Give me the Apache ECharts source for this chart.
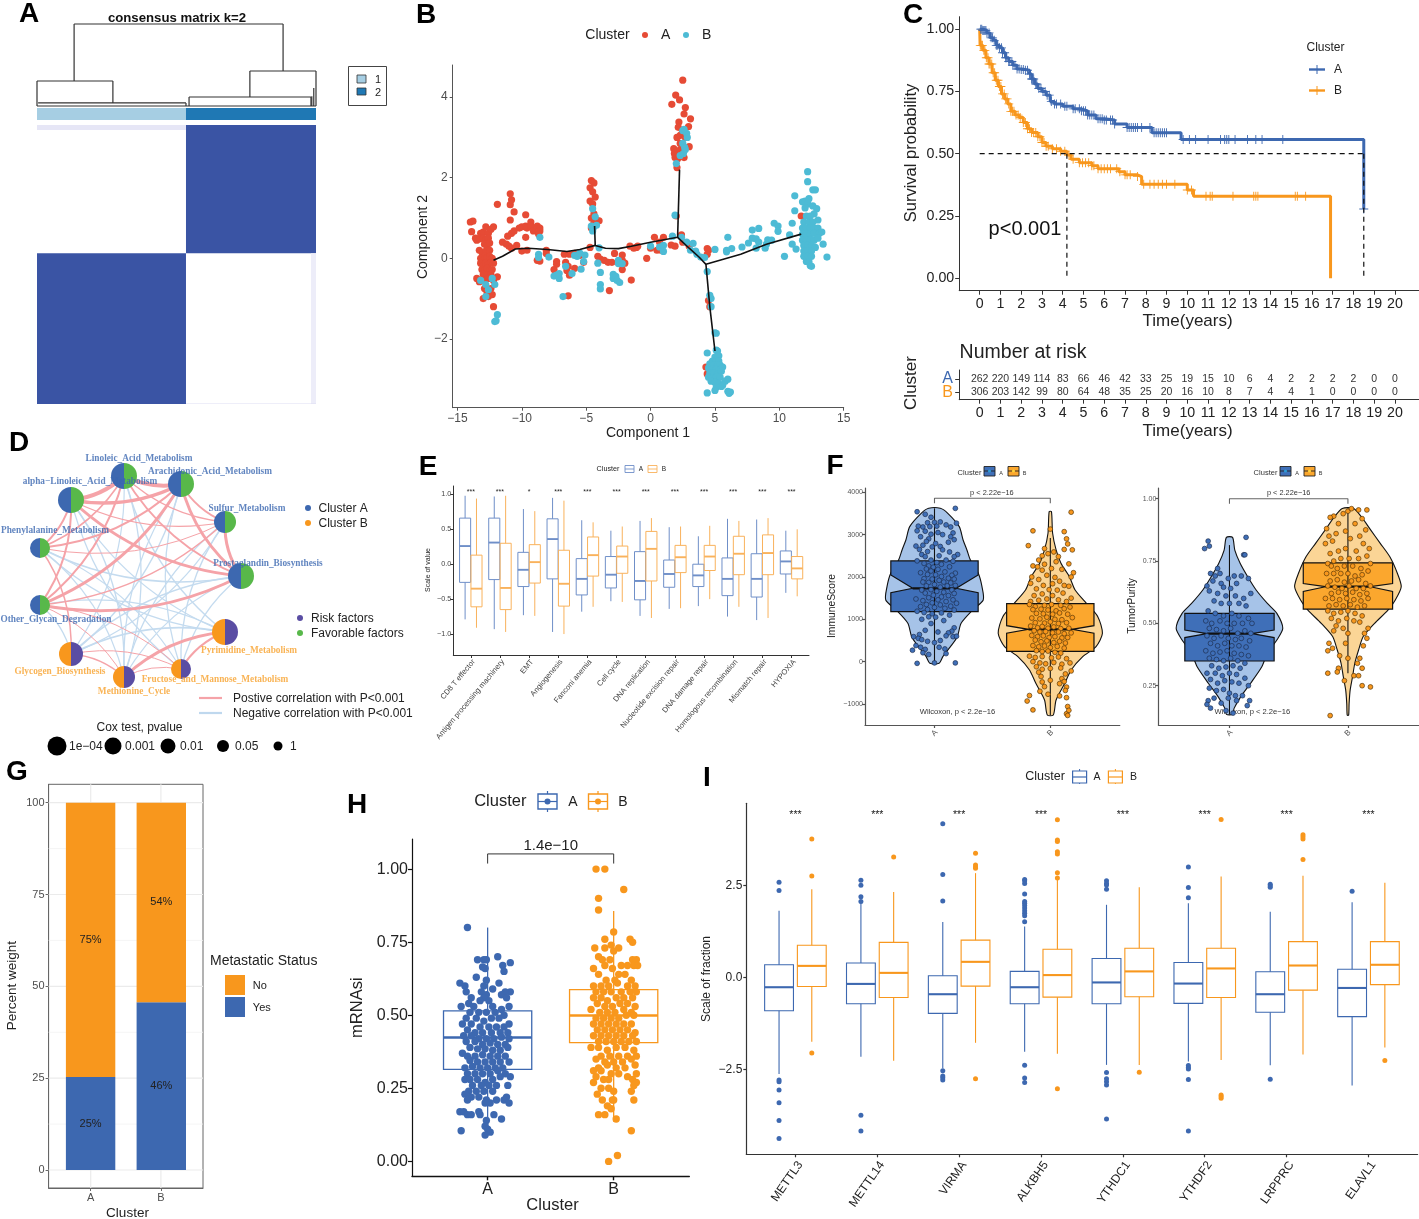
<!DOCTYPE html>
<html><head><meta charset="utf-8">
<style>html,body{margin:0;padding:0;background:#fff}#c{width:1419px;height:1219px}</style>
<script src="https://cdn.jsdelivr.net/npm/echarts@6/dist/echarts.min.js"></script>
</head><body><div id="c"></div>
<script>
// ---------- colours ----------
const BLUE='#3D68B0', ORANGE='#F8971D', FONT='"Liberation Sans"';
// ---------- A ----------
const consensusBlocks=[[0.534,1,0,0.46,'#3A54A4'],[0,0.534,0.46,1,'#3A54A4'],[0,0.534,0,0.018,'#E6E6F6'],[0.982,1,0.46,1,'#EDEDF9'],[0.534,1,0.998,1,'#DEDEF4']];
const annotBlocks=[[0,0.534,'#A6CEE3'],[0.534,1,'#1F78B4']];
const dendro=[[.133,1,.882,1],[.133,1,.133,.305],[.882,1,.882,.427],[0,.305,.272,.305],[0,.305,0,0],[.272,.305,.272,.037],[.004,.037,.534,.037],[.534,.037,.534,0],[.763,.427,1,.427],[.763,.427,.763,.11],[1,.427,1,0],[.545,.11,.982,.11],[.545,.11,.545,0],[.982,.11,.982,0],[0,0,1,0],[.992,.22,.992,0],[.985,.12,.985,0]];
// ---------- B ----------
const trajMain=[[-12.2,-.05],[-11.5,.05],[-10.5,.23],[-9.5,.25],[-8,.22],[-6.5,.17],[-5.5,.22],[-4.3,.32],[-3.5,.25],[-2.5,.24],[-1.5,.3],[0,.4],[2.1,.52],[3,.25],[3.8,.02],[4.3,-.15],[7,.1],[9,.35],[11.7,.6]];
const trajUp=[[2.1,.52],[2.25,2.2]], trajDown=[[4.3,-.15],[4.6,-1.2],[5,-2.3]], trajStub=[[-4.3,.32],[-4.35,.8]];
const cellsA=[[-14,.9],[-13.8,.92],[-13.9,.66],[-13.6,.5],[-13.5,.45],[-13.3,.48],[-13.2,.62],[-13,.65],[-12.8,.78],[-12.6,.62],[-12.4,.72],[-12.2,.78],[-13,.5],[-12.8,.45],[-12.6,.5],[-12.9,.35],[-12.7,.3],[-12.5,.38],[-13.3,.2],[-13.1,.15],[-12.8,.18],[-12.5,.2],[-12.9,.05],[-13.2,0],[-13,-.05],[-12.7,.02],[-12.5,.05],[-12.3,0],[-13.2,-.12],[-13,-.18],[-12.8,-.12],[-12.6,-.15],[-12.4,-.1],[-12.2,-.12],[-13.1,-.28],[-12.9,-.3],[-12.7,-.25],[-12.5,-.3],[-12.3,-.28],[-13,-.4],[-12.7,-.42],[-12.4,-.4],[-13.5,-.5],[-13.3,-.58],[-12.9,-.55],[-12.6,-.5],[-12.2,-.55],[-11.9,-.46],[-12.9,-.75],[-12.7,-.85],[-12.4,-.75],[-13,-1],[-12.6,-.95],[-12.3,-.9],[-12.2,-1.2],[-11.9,1.34],[-11.5,.4],[-11.2,.35],[-11,.3],[-10.8,.25],[-11.1,.55],[-10.8,.62],[-10.6,.68],[-10.9,.95],[-10.6,1.15],[-10.9,1.33],[-10.8,1.45],[-10.9,1.6],[-10.4,.32],[-10,.18],[-10.2,.75],[-10,.78],[-9.7,.8],[-9.6,.75],[-9.7,1.08],[-9.6,.2],[-9.7,.52],[-9.3,.9],[-9.3,.8],[-9.1,.68],[-8.8,.8],[-8.6,.75],[-8.6,.68],[-8.7,.6],[-8.8,-.05],[-8.6,-.07],[-8.1,.2],[-8.1,.12],[-7.5,-.28],[-7.3,-.08],[-7.3,-.15],[-6.7,.1],[-6.6,-.1],[-6.4,-.2],[-6.5,-.3],[-6.3,-.42],[-6.4,-.93],[-6.3,.1],[-5.9,.12],[-5.5,.07],[-5.9,-.25],[-5.2,-.1],[-4.7,1.75],[-4.6,1.93],[-4.4,1.87],[-4.5,1.65],[-4.3,1.52],[-4.7,1.42],[-4.5,1.35],[-4.4,1.1],[-4.6,1],[-4.2,.95],[-4,.93],[-4.4,.88],[-4.6,.75],[-4.7,.27],[-4.1,.05],[-3.9,-.02],[-3.6,-.05],[-3.3,-.1],[-3,-.1],[-2.8,.12],[-3.2,-.8],[-2.2,.08],[-2.2,-.05],[-2,-.12],[-2.2,-.28],[-1.6,.3],[-1.3,.25],[-1.1,.27],[-1,.3],[-1.5,-.54],[-.3,0],[0,.25],[.3,.52],[.5,.2],[.7,.4],[1,.52],[.8,.2],[1.6,.33],[1.9,.3],[3,.3],[2.5,.4],[2.4,.58],[4.4,.24],[4.5,.2],[4.4,.1],[2.5,4.42],[1.95,4.05],[2.25,3.93],[1.65,3.82],[2.7,3.74],[2.6,3.58],[3.1,3.46],[2.2,3.38],[2.15,3.25],[2.95,3.27],[2.7,3],[2.05,3],[2.3,3.05],[2.45,3.1],[2.3,2.85],[1.8,2.72],[1.85,2.6],[2.05,2.65],[2.3,2.7],[3,2.77],[1.9,2.5],[2.1,2.47],[2.6,2.5],[2.05,2.25],[2,1.05],[4.5,-1.05],[4.6,-1.2],[4.3,-2.7],[4.4,-2.87],[11.7,1.05]];
const cellsB=[[-13.2,-.55],[-12.8,-.65],[-12.3,-.5],[-12.1,-.65],[-12.6,-.78],[-12.8,-.95],[-11.9,-1.4],[-12.1,-1.57],[-12,-1.55],[-8.6,.52],[-8.7,.1],[-8.7,.02],[-7.9,.03],[-7.5,-.44],[-7.3,-.42],[-7.1,-.5],[-7.1,-.38],[-6.8,-.95],[-6.6,-.2],[-6.1,-.38],[-5.9,.07],[-5.7,.05],[-5.5,.13],[-5.4,-.27],[-5.1,.08],[-5.2,-.08],[-4.5,1.23],[-4.3,1.03],[-4.6,.8],[-4.4,.78],[-4.2,.82],[-4.5,.68],[-4,.26],[-4.1,-.12],[-3.9,-.35],[-3.9,-.65],[-3.9,-.76],[-2.9,-.4],[-2.9,-.5],[-2.7,-.45],[-2.6,-.55],[-2.4,-.6],[-2.5,-.05],[-2.5,-.13],[-2.2,-.13],[0,.3],[.7,.28],[1,.32],[1,.17],[1.7,.55],[1.9,1.07],[2.4,.52],[2.8,.4],[3.3,.37],[3.1,.2],[3.5,.18],[3.6,.1],[3.9,.03],[4.2,.02],[5,.22],[2,2.35],[2.3,2.55],[2.55,2.6],[2.7,2.7],[2.5,2.85],[2.65,2.75],[2.5,3.17],[2.8,3.1],[2.85,3],[2.6,3.2],[4.4,-.33],[4.6,-.92],[4.7,-1],[4.7,-1.2],[5,-1.85],[5.1,-1.86],[4.4,-2.35],[5.1,-2.28],[5.2,-2.3],[5,-2.45],[5.3,-2.42],[4.8,-2.55],[5.1,-2.55],[5.3,-2.55],[4.6,-2.62],[4.9,-2.65],[5.2,-2.65],[5.4,-2.65],[4.5,-2.72],[4.8,-2.75],[5.1,-2.75],[5.3,-2.78],[5.6,-2.7],[4.6,-2.85],[4.9,-2.85],[5.2,-2.88],[5.5,-2.8],[4.5,-2.95],[4.8,-2.97],[5.1,-2.95],[5.4,-2.95],[4.7,-3.05],[5,-3.08],[5.3,-3.1],[5.8,-3.05],[6,-3],[5.1,-3.2],[5.5,-3.18],[5.6,-3.15],[5,-3.28],[4.4,-3.34],[6,-3.3],[6.2,-3.32],[6.1,-3.35],[6,.52],[5.9,.2],[5.9,.16],[6.3,.24],[7.1,.28],[7.6,.38],[7.9,.7],[7.9,.5],[8.2,.48],[8.4,.74],[8.4,.4],[8.2,.25],[8.9,.25],[9,.35],[9.1,.46],[9.4,.45],[9.6,.87],[9.9,.8],[9.9,.67],[10.4,.05],[10.8,.58],[11,.87],[11,.35],[11.2,1.55],[11.2,1.18],[11.3,.23],[12.2,2.15],[12.2,1.9],[12.6,1.7],[12.8,1.7],[11.8,1.4],[12,1.42],[12.2,1.35],[12.3,1.48],[12.6,1.3],[12.9,1.23],[13,.95],[12.7,1.1],[12,1.25],[12.1,1.05],[12.4,1.05],[11.9,.9],[12.3,.9],[12.6,.9],[11.8,.75],[12.1,.75],[12.4,.75],[12.7,.75],[13,.75],[11.8,.6],[12.1,.6],[12.4,.6],[12.7,.62],[13.1,.62],[13.3,.65],[11.8,.45],[12.1,.45],[12.4,.45],[12.7,.45],[13,.5],[11.9,.32],[12.2,.32],[12.5,.32],[12.8,.27],[13.4,.35],[11.9,.18],[12.2,.18],[12.5,.18],[11.9,.05],[12.2,.05],[12.5,.05],[13.7,.03],[12.1,-.08],[12.3,-.08],[12.4,-.18],[12.5,-.2]];
// ---------- C ----------
const kmA=[[0,1],[.15,.995],[.35,.985],[.5,.965],[.65,.955],[.8,.935],[.95,.925],[1.1,.905],[1.25,.885],[1.4,.87],[1.6,.855],[1.8,.84],[2,.838],[2.2,.835],[2.4,.82],[2.5,.8],[2.65,.78],[2.8,.762],[3,.75],[3.2,.735],[3.4,.71],[3.6,.7],[4,.69],[4.5,.68],[4.9,.672],[5.2,.655],[5.6,.64],[6,.635],[6.5,.619],[7.1,.605],[8.3,.584],[9.7,.557],[18.5,.278]];
const kmB=[[0,1],[.02,.935],[.15,.915],[.3,.885],[.45,.86],[.6,.825],[.75,.795],[.9,.77],[1.05,.74],[1.2,.72],[1.35,.7],[1.5,.67],[1.7,.655],[1.9,.645],[2.1,.625],[2.3,.6],[2.5,.585],[2.8,.568],[3,.545],[3.2,.53],[3.5,.52],[3.9,.51],[4.2,.495],[4.4,.478],[4.8,.464],[5.4,.452],[5.7,.44],[6.7,.428],[7,.415],[7.6,.408],[7.8,.377],[10,.354],[10.3,.329],[16.9,0]];
const censorA=[.05,.1,.15,.2,.25,.3,.35,.45,.55,.62,.7,.8,.87,.95,1.05,1.1,1.2,1.25,1.3,1.4,1.45,1.55,1.6,1.7,1.8,1.9,2,2.1,2.2,2.3,2.4,2.5,2.55,2.6,2.7,2.75,2.85,2.95,3.05,3.15,3.25,3.35,3.45,3.6,3.7,3.9,4.1,4.2,4.5,4.6,4.8,4.9,5,5.1,5.2,5.3,5.4,5.5,5.7,5.8,5.9,6,6.1,6.3,6.4,6.5,7.1,7.2,7.3,7.4,7.5,7.6,7.8,8.2,8.4,8.5,8.6,8.7,8.8,8.9,9,9.8,10.1,10.4,11,11.6,11.8,11.9,12,12.3,12.9,13.3,13.6,14.6,18.5];
const censorB=[.03,.08,.13,.2,.25,.32,.4,.45,.5,.58,.65,.72,.8,.88,.95,1.02,1.1,1.18,1.25,1.32,1.4,1.5,1.58,1.65,1.75,1.85,1.95,2.1,2.2,2.3,2.4,2.5,2.6,2.7,2.8,2.9,3,3.1,3.2,3.3,3.5,3.7,3.9,4.1,4.3,4.5,4.8,4.95,5.1,5.25,5.4,5.5,5.7,5.85,6,6.15,6.3,6.6,6.75,7,7.1,7.25,7.6,7.9,8.2,8.4,8.6,8.8,9,9.4,10,10.2,10.9,11.1,11.2,12.2,13.2,13.3,13.4,15.2,15.3,15.7];
const riskA=[262,220,149,114,83,66,46,42,33,25,19,15,10,6,4,2,2,2,2,0,0];
const riskB=[306,203,142,99,80,64,48,35,25,20,16,10,8,7,4,4,1,0,0,0,0];
const yearTicks=[0,1,2,3,4,5,6,7,8,9,10,11,12,13,14,15,16,17,18,19,20];
// ---------- D ----------
const netNames=['Linoleic_Acid_Metabolism','Arachidonic_Acid_Metabolism','Sulfur_Metabolism','Prostaglandin_Biosynthesis','Pyrimidine_Metabolism','Fructose_and_Mannose_Metabolism','Methionine_Cycle','Glycogen_Biosynthesis','Other_Glycan_Degradation','Phenylalanine_Metabolism','alpha−Linoleic_Acid_Metabolism'];
const netPos=[[124,476],[181,484],[225,522],[241,576],[225,632],[181,669],[124,677],[71,654],[40,605],[40,548],[71,500]];
const netRadius=[13,13,11,13,13,10,11,12,10,10,13];
const netClusterB=[0,0,0,0,1,1,1,1,0,0,0];
const netLabelPos=[[139,459],[210,472],[247,509],[268,564],[249,651],[215,680],[134,692],[60,672],[56,620],[55,531],[90,482]];
const posEdges=[[0,10,4],[0,1,4],[1,10,3.5],[3,10,3],[2,10,1.2],[1,2,1.8],[1,3,3],[0,3,1.8],[0,2,1.2],[2,3,3],[1,8,3],[0,8,2],[8,10,2],[9,10,2],[0,9,1.5],[1,9,2],[2,9,1],[7,9,1.5],[3,8,3],[2,8,1.5],[5,8,1],[6,8,1],[4,6,3],[4,5,2],[5,6,1],[6,7,1.5],[5,7,1]];
const negEdges=[[0,6,1.3],[0,4,1.3],[1,6,1.3],[1,5,1.3],[1,7,1.3],[2,7,1.3],[2,6,1.3],[2,5,1.3],[3,7,1.3],[3,6,1.3],[3,5,1.3],[4,9,1.3],[5,9,1.2],[4,10,1.3],[5,10,1.2],[6,10,1.3],[7,8,1.3],[6,9,1.2],[4,8,1.2],[4,7,1.6],[0,7,1.2],[3,9,1.4]];
const coxSizes=[9.5,8.5,7.5,6,4.5], coxLabels=['1e−04','0.001','0.01','0.05','1'], coxX=[57,113,168,223,278];
// ---------- E ----------
const hallmarkNames=['CD8 T effector','Antigen processing machinery','EMT','Angiogenesis','Fanconi anemia','Cell cycle','DNA replication','Nucleotide excision repair','DNA damage repair','Homologous recombination','Mismatch repair','HYPOXIA'];
const hallmarkStars=['***','***','*','***','***','***','***','***','***','***','***','***'];
const hallmarkA=[[-.79,-.26,.26,.66,.98],[-.93,-.22,.31,.66,.97],[-.73,-.32,-.08,.17,.79],[-.97,-.21,.36,.65,.95],[-.68,-.44,-.21,.08,.63],[-.53,-.34,-.15,.11,.48],[-.74,-.51,-.24,.18,.62],[-.64,-.33,-.14,.06,.53],[-.6,-.32,-.16,0,.4],[-.75,-.45,-.21,.09,.65],[-.8,-.47,-.21,.15,.64],[-.41,-.14,.04,.19,.48]];
const hallmarkB=[[-.91,-.61,-.35,.13,.94],[-.97,-.65,-.34,.3,.98],[-.74,-.27,.03,.28,.76],[-1,-.6,-.28,.2,.91],[-.61,-.17,.13,.39,.6],[-.54,-.13,.11,.26,.54],[-.77,-.24,.22,.47,.66],[-.63,-.12,.1,.27,.54],[-.5,-.09,.11,.27,.55],[-.61,-.15,.15,.4,.62],[-.77,-.15,.16,.42,.66],[-.46,-.21,-.06,.11,.5]];
// ---------- F ----------
const violinImmuneA=[[3622,.05],[3504,.115],[3189,.214],[2874,.247],[2638,.28],[2401,.31],[2087,.378],[1772,.41],[1457,.421],[1220,.33],[906,.23],[590,.197],[354,.138],[118,.072],[-40,.04]];
const violinImmuneB=[[3543,.01],[3031,.02],[2638,.05],[2323,.092],[2008,.165],[1693,.214],[1378,.312],[1063,.41],[669,.45],[354,.395],[118,.28],[-197,.18],[-512,.125],[-906,.05],[-1260,.026]];
const violinPurityA=[[.845,.026],[.794,.045],[.741,.09],[.687,.154],[.634,.225],[.58,.32],[.54,.4],[.48,.45],[.433,.4],[.38,.32],[.326,.273],[.259,.177],[.206,.096],[.159,.039],[.135,.026]];
const violinPurityB=[[.961,.048],[.928,.113],[.874,.193],[.821,.273],[.767,.354],[.7,.418],[.647,.45],[.594,.4],[.553,.338],[.5,.225],[.447,.129],[.393,.09],[.34,.058],[.286,.039],[.233,.019],[.179,.01],[.132,.006]];
// x, whisker low, q1, notch low, median, notch high, q3, whisker high
const notchImmune=[[1,-40,1181,1630,1732,2047,2378,3622],[2,-1260,244,670,764,850,1370,2920]];
const notchPurity=[[1,.135,.349,.443,.459,.473,.54,.814],[2,.3,.5575,.628,.647,.66,.743,.961]];
const immuneAPts=[[.85,3540],[1.18,3620],[.92,3480],[1.19,3270],[.97,3410],[1.05,3300],[1,3290],[.94,3280],[.86,3200],[.9,3180],[.96,3190],[1.02,3200],[1.1,3230],[1.14,3180],[.85,3090],[.92,3080],[1.03,3050],[.97,3010],[1.07,3000],[1.16,3040],[.88,2950],[.95,2900],[1.14,2950],[1.17,2880],[.93,2840],[1.12,2820],[.9,2750],[.84,2730],[1.01,2790],[1.05,2720],[.98,2710],[.87,2650],[.94,2600],[1.07,2640],[1.13,2590],[.89,2530],[1.2,2530],[1.17,2480],[.92,2480],[1.04,2500],[.97,2400],[.85,2380],[1.1,2400],[1.16,2370],[1.02,2340],[.91,2320],[.95,2260],[1.06,2300],[.99,2230],[.93,2190],[1.13,2240],[1.03,2180],[.97,2140],[1.09,2120],[1.18,2090],[.88,2100],[1.15,2040],[.94,2060],[1.01,2050],[1.06,2010],[.91,1960],[.98,1950],[1.12,1970],[1.17,1950],[1.04,1920],[.9,1880],[.95,1870],[1.08,1880],[1.14,1860],[1,1820],[.93,1790],[1.11,1790],[1.18,1800],[1.05,1760],[.97,1700],[.89,1690],[1.15,1690],[1.02,1660],[1.08,1640],[.92,1620],[1.17,1610],[.99,1570],[1.12,1560],[1.06,1530],[.95,1510],[.84,1480],[1.03,1460],[1.16,1460],[.9,1440],[1.1,1420],[.98,1390],[1.19,1380],[.93,1350],[1.05,1340],[1.14,1310],[.88,1300],[1,1280],[1.09,1260],[.94,1230],[1.17,1220],[.85,1190],[.91,1160],[.98,1130],[1.06,1150],[1.13,1100],[.95,1060],[1.01,1050],[.89,1000],[1.08,970],[.97,900],[1.17,800],[1.15,720],[1.12,680],[.92,740],[.87,640],[1.03,700],[.82,590],[.86,550],[.89,520],[1.1,610],[1.16,590],[1.05,500],[.94,480],[1,450],[1.19,600],[.84,380],[.88,340],[.92,290],[1.04,340],[1.09,300],[.81,270],[.9,210],[.95,170],[1.1,190],[.85,-40],[1.18,-30],[1,-30]];
const immuneBPts=[[1.85,3090],[2,3130],[2.12,3070],[2.18,3530],[2.14,2900],[2.15,2780],[1.81,2740],[2.19,2640],[2.12,2650],[1.95,2670],[1.98,2550],[2.03,2590],[1.93,2500],[2.07,2480],[1.9,2400],[1.85,2260],[1.89,2240],[1.95,2300],[2.05,2360],[2.16,2310],[1.93,2160],[2.01,2200],[2.1,2180],[2.2,2100],[2.18,2000],[1.84,2000],[1.9,1940],[1.97,2040],[2.04,1990],[2.08,1900],[1.83,1850],[1.94,1800],[2.02,1840],[2.12,1800],[2.16,1780],[1.88,1720],[1.99,1700],[2.06,1690],[2.11,1620],[1.86,1560],[1.93,1600],[2.02,1560],[2.18,1500],[1.83,1420],[1.9,1450],[1.97,1480],[2.07,1460],[2.14,1420],[1.82,1350],[1.87,1300],[1.95,1330],[2.01,1350],[2.09,1330],[2.17,1290],[1.85,1230],[1.92,1240],[1.98,1220],[2.05,1200],[2.12,1250],[1.88,1140],[1.94,1130],[2.02,1120],[2.08,1150],[2.15,1120],[2.19,1040],[1.84,1030],[1.91,1010],[1.97,1050],[2.04,1000],[2.1,990],[1.87,920],[1.95,910],[2,940],[2.07,900],[2.14,920],[1.83,840],[1.89,800],[1.93,830],[1.98,790],[2.03,820],[2.09,780],[2.16,790],[1.86,730],[1.91,700],[1.96,710],[2.02,680],[2.07,700],[2.12,660],[2.18,680],[1.84,620],[1.89,590],[1.94,610],[1.99,570],[2.04,590],[2.1,560],[2.15,570],[1.87,510],[1.92,470],[1.97,490],[2.03,450],[2.08,480],[2.13,440],[1.85,380],[1.9,350],[1.95,370],[2,330],[2.06,360],[2.12,320],[1.88,260],[1.93,240],[1.98,250],[2.04,220],[2.09,200],[1.82,130],[1.87,100],[1.93,120],[2.01,90],[2.07,110],[2.14,70],[1.85,0],[1.91,-30],[1.96,-50],[2.03,-20],[2.1,-60],[2.17,-30],[1.88,-120],[1.93,-180],[2,-160],[2.09,-150],[1.9,-250],[2.13,-290],[2.18,-220],[1.92,-350],[2.1,-400],[2.12,-470],[1.93,-480],[2,-440],[2.08,-520],[1.95,-590],[2.14,-600],[2.13,-680],[1.82,-800],[1.91,-700],[1.98,-770],[1.8,-930],[2.14,-850],[2.08,-810],[1.85,-1140],[2.15,-1060],[2.14,-1230],[2.15,-1270],[2.16,-1150]];
const purityAPts=[[.82,.83],[.79,.8],[.83,.81],[1.14,.845],[1.12,.775],[1.13,.775],[.9,.72],[.84,.7],[.88,.69],[.92,.7],[.81,.65],[.86,.67],[.93,.66],[.99,.68],[1.04,.69],[1.1,.69],[1.16,.68],[.95,.645],[1.01,.64],[1.06,.66],[.83,.63],[.9,.62],[.97,.61],[1.05,.61],[1.12,.6],[1.18,.62],[.87,.59],[.93,.58],[1,.58],[1.08,.58],[1.14,.57],[.82,.55],[.88,.54],[.95,.53],[1.02,.54],[1.08,.53],[1.16,.52],[.8,.51],[.85,.5],[.92,.51],[.98,.5],[1.04,.5],[1.11,.5],[1.19,.5],[.83,.48],[.89,.475],[.95,.47],[1.01,.48],[1.07,.46],[1.13,.47],[1.18,.46],[.81,.45],[.87,.44],[.93,.45],[.99,.44],[1.05,.435],[1.1,.44],[1.17,.43],[.84,.42],[.9,.41],[.96,.42],[1.02,.41],[1.08,.41],[1.14,.405],[.8,.39],[.86,.38],[.92,.385],[.98,.39],[1.04,.38],[1.1,.375],[1.16,.37],[.83,.36],[.89,.355],[.95,.35],[1.01,.36],[1.07,.35],[1.13,.34],[.85,.33],[.91,.32],[.97,.325],[1.03,.33],[1.09,.32],[.81,.3],[.88,.3],[.94,.29],[1,.3],[1.06,.295],[1.13,.28],[.84,.275],[.9,.26],[.96,.27],[1.02,.265],[1.08,.26],[1.16,.25],[.83,.24],[.89,.23],[.95,.235],[1,.22],[1.05,.21],[1.11,.21],[.82,.19],[.87,.2],[.93,.18],[1.17,.19],[1.15,.17],[.81,.175],[.99,.2],[1.06,.19],[.84,.16],[.97,.15],[1.03,.14]];
const purityBPts=[[2,.95],[2.03,.96],[2.09,.955],[2.16,.955],[1.88,.93],[1.85,.925],[1.96,.94],[2.12,.92],[1.82,.88],[1.92,.9],[2.06,.9],[2.15,.875],[1.84,.85],[1.9,.86],[1.98,.87],[2.1,.85],[1.81,.82],[1.87,.83],[2.02,.84],[2.13,.82],[2.18,.8],[1.85,.78],[1.92,.79],[1.98,.8],[2.07,.79],[2.16,.77],[1.83,.74],[1.88,.75],[1.94,.76],[2.01,.76],[2.09,.76],[2.19,.74],[1.86,.73],[1.91,.72],[1.97,.73],[2.04,.73],[2.11,.72],[2.17,.71],[1.82,.7],[1.88,.7],[1.94,.7],[2,.7],[2.06,.69],[2.12,.695],[1.85,.67],[1.91,.675],[1.97,.665],[2.03,.67],[2.09,.675],[2.15,.66],[1.83,.65],[1.89,.645],[1.95,.64],[2.01,.65],[2.07,.64],[2.13,.64],[2.19,.65],[1.86,.62],[1.92,.625],[1.98,.62],[2.04,.625],[2.1,.615],[2.16,.62],[1.81,.6],[1.87,.6],[1.93,.595],[1.99,.6],[2.05,.595],[2.11,.59],[2.17,.6],[1.84,.57],[1.9,.575],[1.96,.57],[2.02,.575],[2.08,.565],[2.14,.57],[1.83,.55],[1.88,.54],[1.94,.545],[2,.55],[2.06,.54],[2.12,.53],[1.86,.52],[1.92,.51],[1.99,.52],[2.05,.51],[2.1,.505],[2.17,.48],[1.9,.49],[1.96,.48],[2.14,.46],[1.88,.47],[2,.46],[2.16,.44],[1.84,.42],[1.87,.4],[1.83,.39],[1.98,.42],[2.13,.41],[1.93,.37],[2,.36],[2.1,.36],[1.92,.32],[2.08,.34],[1.83,.3],[1.91,.305],[2.12,.32],[2.05,.29],[2.09,.29],[1.97,.27],[2.12,.25],[2.19,.245],[1.85,.13]];
// ---------- G ----------
const metaCats=['A','B'], metaYes=[25.3,45.7], metaNo=[74.7,54.3], metaYesLbl=['25%','46%'], metaNoLbl=['75%','54%'];
// ---------- H ----------
const mrnaBoxes=[[1,.09,.315,.424,.515,.8],[2,.136,.406,.499,.588,.857]];
const mrnaA=[[.84,.8],[.92,.69],[.97,.69],[.99,.69],[1.08,.7],[1.18,.68],[1.12,.67],[.98,.66],[.96,.665],[1.13,.65],[.91,.63],[.99,.62],[.78,.61],[.97,.6],[1.09,.61],[.82,.6],[1.04,.59],[.83,.58],[.95,.58],[.99,.57],[1.18,.58],[1.14,.58],[1.11,.57],[.87,.56],[.97,.56],[1.01,.55],[1.15,.56],[.85,.54],[.94,.55],[.89,.53],[1.04,.53],[1.17,.53],[1.11,.52],[.79,.53],[.86,.51],[.93,.51],[.99,.51],[1.06,.51],[1.13,.5],[.83,.49],[.91,.49],[.97,.48],[1.03,.49],[1.09,.49],[1.17,.47],[.8,.47],[.87,.47],[.94,.46],[1.01,.46],[1.07,.46],[1.13,.46],[.84,.45],[.9,.44],[.96,.44],[1.03,.44],[1.1,.44],[1.16,.44],[.81,.43],[.87,.43],[.93,.42],[.99,.42],[1.05,.42],[1.11,.425],[1.17,.42],[.83,.41],[.9,.41],[.96,.4],[1.02,.405],[1.08,.4],[1.14,.4],[.86,.39],[.92,.385],[.98,.385],[1.04,.38],[1.1,.38],[1.16,.39],[.8,.37],[.84,.36],[.9,.36],[.96,.365],[1.02,.36],[1.08,.36],[1.14,.36],[.86,.345],[.92,.34],[.98,.34],[1.04,.34],[1.1,.34],[1.17,.34],[.82,.32],[.88,.325],[.94,.32],[1,.32],[1.06,.32],[1.12,.32],[.84,.3],[.9,.3],[.96,.3],[1.02,.3],[1.08,.31],[1.14,.3],[.82,.28],[.86,.28],[.92,.28],[.98,.27],[1.04,.28],[1.1,.29],[1.18,.29],[.88,.26],[.95,.26],[1.01,.26],[1.07,.26],[1.16,.26],[.85,.24],[.91,.24],[.97,.24],[1.04,.24],[1.15,.22],[.82,.23],[.87,.22],[.93,.22],[.99,.21],[1.02,.2],[1.07,.21],[1.13,.21],[.84,.21],[.98,.2],[1.17,.2],[.78,.17],[.81,.17],[.84,.16],[.87,.16],[.93,.17],[.94,.16],[1.05,.16],[1.11,.145],[.99,.14],[.79,.105],[.98,.12],[1,.11],[1.02,.1],[.98,.09]];
const mrnaB=[[1.86,1],[1.93,1],[1.88,.9],[2.08,.93],[1.88,.86],[2,.785],[1.93,.76],[2.13,.76],[2.15,.75],[1.85,.73],[1.93,.73],[1.98,.74],[2.04,.73],[2,.72],[1.88,.7],[2.15,.69],[2.18,.69],[1.91,.69],[1.97,.69],[2.06,.67],[2.11,.67],[2.16,.67],[1.84,.66],[1.93,.67],[1.99,.66],[2.19,.67],[2.04,.64],[2.09,.64],[1.88,.64],[1.94,.62],[2.01,.62],[2.14,.62],[1.84,.6],[1.9,.6],[1.96,.6],[2.03,.61],[2.11,.6],[2.17,.6],[1.86,.58],[1.92,.58],[1.98,.58],[2.06,.58],[2.13,.58],[2.18,.58],[1.84,.56],[1.9,.56],[1.95,.55],[2.02,.56],[2.08,.56],[2.15,.56],[1.87,.54],[1.93,.53],[1.99,.53],[2.05,.54],[2.11,.54],[2.17,.53],[1.82,.52],[1.89,.51],[1.95,.51],[2.01,.51],[2.08,.52],[2.14,.51],[1.86,.49],[1.92,.49],[1.98,.49],[2.04,.49],[2.1,.5],[2.16,.5],[1.84,.47],[1.9,.47],[1.96,.47],[2.02,.47],[2.08,.47],[2.14,.47],[1.87,.45],[1.93,.45],[1.99,.45],[2.05,.45],[2.11,.45],[2.17,.44],[1.84,.43],[1.9,.43],[1.96,.43],[2.02,.43],[2.08,.43],[2.15,.43],[1.88,.41],[1.94,.41],[2,.41],[2.06,.41],[2.12,.41],[2.18,.41],[1.82,.39],[1.88,.39],[1.95,.38],[2.02,.39],[2.09,.39],[2.16,.38],[1.9,.36],[1.97,.36],[2.04,.36],[2.11,.36],[2.18,.36],[1.86,.35],[1.93,.34],[2,.34],[2.07,.34],[2.14,.35],[1.88,.32],[1.95,.33],[2.02,.32],[2.09,.32],[2.17,.33],[1.84,.31],[1.9,.31],[1.98,.3],[2.04,.3],[2.11,.29],[2.18,.3],[1.86,.29],[1.92,.28],[1.96,.28],[2.15,.28],[2.18,.27],[1.84,.27],[2.16,.26],[1.9,.25],[1.96,.25],[1.87,.23],[2,.24],[2.14,.24],[1.99,.21],[2.16,.21],[1.91,.21],[1.95,.19],[2,.21],[1.98,.18],[1.93,.16],[1.88,.16],[2.02,.145],[2.14,.105],[2.03,.02],[1.96,0]];
// ---------- I ----------
const m6aGenes=['METTL3','METTL14','VIRMA','ALKBH5','YTHDC1','YTHDF2','LRPPRC','ELAVL1'];
const m6aA=[[-2.63,-.91,-.27,.34,1.81],[-2.16,-.72,-.18,.39,2.1],[-2.47,-.98,-.46,.04,1.5],[-2.02,-.72,-.27,.16,1.38],[-2.38,-.72,-.14,.51,1.97],[-2.29,-.71,-.17,.4,2.01],[-2.39,-.95,-.46,.15,1.78],[-2.94,-1.07,-.29,.22,2.04]];
const m6aB=[[-1.75,-.25,.31,.87,2.39],[-2.27,-.55,.12,.95,2.32],[-1.78,-.24,.42,1.01,2.83],[-2.08,-.54,.06,.76,2.65],[-2.38,-.53,.16,.79,2.45],[-2.25,-.55,.24,.79,2.74],[-2.1,-.35,.32,.97,2.76],[-1.91,-.2,.34,.97,2.57]];
const m6aOutA=[[2.58,2.36,-2.79,-2.84,-3.06,-3.41,-3.89,-4.38],[2.64,2.5,2.19,2.06,-3.75,-4.18],[4.17,2.79,2.07,-2.54,-2.68,-2.73,-2.79],[2.66,2.62,2.55,2.26,2.06,2.01,1.95,1.88,1.81,1.74,1.67,1.51,-2.39,-2.74,-2.86],[2.62,2.55,2.51,2.39,-2.59,-2.76,-2.84,-2.93,-3.85],[3,2.44,2.16,-2.4,-2.45,-2.49,-2.78,-4.18],[2.53,2.49,2.45,-2.77],[2.34]];
const m6aOutB=[[3.76,2.75,-2.06],[3.27],[3.37,3.05,3,2.96,-2.76],[4.28,3.73,3.69,3.41,3.35,2.84,2.7,-3.03],[-2.58],[4.29,-3.2,-3.24,-3.29],[3.87,3.82,3.76,3.2],[-2.26]];

// ---------- helpers ----------
const minus=v=>String(v).replace('-','−');
const grid=[],xAxis=[],yAxis=[],series=[],gfx=[];
function axisBase(o){
  const c=o.color||'#333', base={type:'value',min:o.min,max:o.max,inverse:!!o.inverse,show:o.show!==false,
    axisLine:{show:true,onZero:false,lineStyle:{color:o.line||'#333',width:o.lw||1}},
    axisTick:{show:true,customValues:o.ticks||[],length:o.tl||3,lineStyle:{color:o.line||'#333',width:o.lw||1}},
    axisLabel:Object.assign({show:true,customValues:o.ticks||[],formatter:o.fmt||minus,color:c,fontSize:o.fs||10,fontFamily:FONT,margin:o.margin||3,rotate:o.rotate||0,showMinLabel:true,showMaxLabel:true,hideOverlap:false},o.label||{}),
    splitLine:{show:false}};
  return base;
}
function panel(l,t,r,b,xo,yo){
  const i=grid.length;
  grid.push({left:l,top:t,width:r-l,height:b-t});
  xAxis.push(Object.assign(axisBase(xo),{gridIndex:i}));
  yAxis.push(Object.assign(axisBase(yo),{gridIndex:i}));
  return i;
}
function T(x,y,text,fs,o){o=o||{};
  gfx.push({type:'text',x,y,rotation:o.rot||0,silent:true,style:{text,fill:o.color||'#222',font:(o.weight?o.weight+' ':'')+fs+'px '+(o.family||FONT),align:o.align||'center',textAlign:o.align||'center',verticalAlign:'middle',textVerticalAlign:'middle'}});
}
function R(x,y,w,h,fill,stroke,lw){gfx.push({type:'rect',silent:true,shape:{x,y,width:w,height:h},style:{fill:fill||'none',stroke:stroke||'none',lineWidth:lw||1}});}
function L(x1,y1,x2,y2,c,lw){gfx.push({type:'line',silent:true,shape:{x1,y1,x2,y2},style:{stroke:c,lineWidth:lw||1}});}
function C(x,y,r,fill){gfx.push({type:'circle',silent:true,shape:{cx:x,cy:y,r},style:{fill}});}
function lineS(g,data,color,width,o){series.push(Object.assign({type:'line',xAxisIndex:g,yAxisIndex:g,data,showSymbol:false,symbol:'none',silent:true,animation:false,lineStyle:{color,width}},o||{}));}
function dots(g,data,color,size,o){series.push(Object.assign({type:'scatter',xAxisIndex:g,yAxisIndex:g,data,symbolSize:size,silent:true,animation:false,itemStyle:{color,opacity:1}},o||{}));}
function boxes(g,rows,color,hw,lw,z){series.push({type:'custom',xAxisIndex:g,yAxisIndex:g,data:rows,silent:true,animation:false,z:z||2,encode:{x:0,y:[1,2,3,4,5]},
  renderItem(p,api){
    const x=api.value(0),lo=api.value(1),q1=api.value(2),md=api.value(3),q3=api.value(4),hi=api.value(5);
    const a=api.coord([x-hw,q1]),b=api.coord([x+hw,q3]),m1=api.coord([x-hw,md]),m2=api.coord([x+hw,md]),w1=api.coord([x,lo]),w2=api.coord([x,q1]),w3=api.coord([x,q3]),w4=api.coord([x,hi]);
    const st={stroke:color,lineWidth:lw,fill:'none'};
    return {type:'group',children:[
      {type:'line',shape:{x1:w1[0],y1:w1[1],x2:w2[0],y2:w2[1]},style:st},
      {type:'line',shape:{x1:w3[0],y1:w3[1],x2:w4[0],y2:w4[1]},style:st},
      {type:'rect',shape:{x:a[0],y:b[1],width:b[0]-a[0],height:a[1]-b[1]},style:st},
      {type:'line',shape:{x1:m1[0],y1:m1[1],x2:m2[0],y2:m2[1]},style:{stroke:color,lineWidth:lw*1.9}}
    ]};
  }});}
function violin(g,x,shape,fill){series.push({type:'custom',xAxisIndex:g,yAxisIndex:g,data:[[x,shape[0][0]]],silent:true,animation:false,z:2,encode:{x:0,y:1},
  renderItem(p,api){
    const pts=[];
    shape.forEach(s=>pts.push(api.coord([x+s[1],s[0]])));
    shape.slice().reverse().forEach(s=>pts.push(api.coord([x-s[1],s[0]])));
    return {type:'polygon',shape:{points:pts,smooth:.25},style:{fill,stroke:'#111',lineWidth:1.1}};
  }});}
function notch(g,rows,fill,hw){series.push({type:'custom',xAxisIndex:g,yAxisIndex:g,data:rows,silent:true,animation:false,z:3,encode:{x:0,y:[1,2,3,4,5,6,7]},
  renderItem(p,api){
    const x=api.value(0),lo=api.value(1),q1=api.value(2),nl=api.value(3),md=api.value(4),nu=api.value(5),q3=api.value(6),hi=api.value(7);
    const P=(a,b)=>api.coord([a,b]),f=hw/2;
    const poly=[P(x-hw,q1),P(x-hw,nl),P(x-f,md),P(x-hw,nu),P(x-hw,q3),P(x+hw,q3),P(x+hw,nu),P(x+f,md),P(x+hw,nl),P(x+hw,q1)];
    const a=P(x,lo),b=P(x,hi),c=P(x-f,md),d=P(x+f,md);
    return {type:'group',children:[
      {type:'polygon',shape:{points:poly},style:{fill,stroke:'#111',lineWidth:1.2}},
      {type:'line',shape:{x1:a[0],y1:a[1],x2:b[0],y2:b[1]},style:{stroke:'#111',lineWidth:1.1}},
      {type:'line',shape:{x1:c[0],y1:c[1],x2:d[0],y2:d[1]},style:{stroke:'#111',lineWidth:2.2}}
    ]};
  }});}
function stackOut(outs,offset){const r=[];outs.forEach((vs,i)=>vs.forEach(v=>r.push([i+1+offset,v])));return r;}
function survAt(curve,t){let s=curve[0][1];for(const p of curve){if(p[0]<=t)s=p[1];}return s;}
const rects=(g,rows)=>series.push({type:'custom',xAxisIndex:g,yAxisIndex:g,data:rows.map(r=>[r[0],r[1],r[2],r[3]]),silent:true,animation:false,encode:{x:[0,1],y:[2,3]},
  renderItem(p,api){const a=api.coord([api.value(0),api.value(2)]),b=api.coord([api.value(1),api.value(3)]);
    return {type:'rect',shape:{x:a[0],y:Math.min(a[1],b[1]),width:b[0]-a[0],height:Math.abs(b[1]-a[1])},style:{fill:rows[p.dataIndex][4],stroke:null}};}});

// ---------- panel letters ----------
[['A',29,14],['B',426,15],['C',913,15],['D',19,443],['E',428,467],['F',835,466],['G',17,772],['H',357,805],['I',707,778]].forEach(l=>T(l[1],l[2],l[0],28,{weight:'bold',color:'#000'}));

// ---------- A ----------
{
  const hid={show:false,min:0,max:1};
  const g=panel(37,125,316,404,hid,Object.assign({},hid,{inverse:true}));
  rects(g,consensusBlocks);
  const g2=panel(37,108,316,120,hid,hid);
  rects(g2,annotBlocks.map(a=>[a[0],a[1],0,1,a[2]]));
  const g3=panel(37,24,316,106,hid,hid);
  series.push({type:'custom',xAxisIndex:g3,yAxisIndex:g3,data:dendro,silent:true,animation:false,encode:{x:[0,2],y:[1,3]},
    renderItem(p,api){const a=api.coord([api.value(0),api.value(1)]),b=api.coord([api.value(2),api.value(3)]);
      return {type:'line',shape:{x1:a[0],y1:a[1],x2:b[0],y2:b[1]},style:{stroke:'#333',lineWidth:1.2}};}});
  T(177,18,'consensus matrix k=2',13.2,{weight:'bold',color:'#111'});
  R(348.5,66.5,38,39,'#fff','#444',1);
  R(357,75,9,8,'#A6CEE3','#333',.8); R(357,88,9,7,'#1F78B4','#333',.8);
  T(378,80,'1',11); T(378,92.5,'2',11);
}
// ---------- B ----------
{
  const g=panel(452.7,65,843.7,407.7,
    {min:-15.37,max:15,ticks:[-15,-10,-5,0,5,10,15],fs:12,color:'#4D4D4D',line:'#555',margin:5},
    {min:-3.707,max:4.796,ticks:[-2,0,2,4],fs:12,color:'#4D4D4D',line:'#555',margin:5});
  dots(g,cellsA,'#E64B35',7.2,{z:2});
  dots(g,cellsB,'#4DBBD5',7.2,{z:3});
  [trajMain,trajUp,trajDown,trajStub].forEach(t=>lineS(g,t,'#111',1.6,{z:4}));
  T(648,433.5,'Component 1',14); T(423,237,'Component 2',14,{rot:Math.PI/2});
  T(607.5,35,'Cluster',14); C(645,35,3,'#E64B35'); T(665.7,35,'A',14); C(686,35,3,'#4DBBD5'); T(706.7,35,'B',14);
}
// ---------- C ----------
{
  const g=panel(959.2,16.7,1419,290.7,
    {min:-.987,max:21.16,ticks:yearTicks,fs:14.2,margin:6,color:'#222',tl:4},
    {min:-.05,max:1.05,ticks:[0,.25,.5,.75,1],fs:14.2,fmt:v=>v.toFixed(2),color:'#222',tl:4,margin:5});
  lineS(g,kmA,BLUE,3,{step:'end',z:3});
  lineS(g,kmB,ORANGE,3,{step:'end',z:3});
  const plus='path://M4.5 0h1v10h-1z M0 4.5h10v1H0z';
  dots(g,censorA.map(t=>[t,survAt(kmA,t)]),BLUE,[9,9],{symbol:plus,z:4});
  dots(g,censorB.map(t=>[t,survAt(kmB,t)]),ORANGE,[9,9],{symbol:plus,z:4});
  lineS(g,[[0,.5],[18.5,.5]],'#111',1.2,{z:5,lineStyle:{color:'#111',width:1.2,type:[5,4]}});
  lineS(g,[[4.2,.5],[4.2,0]],'#111',1.2,{z:5,lineStyle:{color:'#111',width:1.2,type:[5,4]}});
  lineS(g,[[18.5,.5],[18.5,0]],'#111',1.2,{z:5,lineStyle:{color:'#111',width:1.2,type:[5,4]}});
  T(1025,229,'p<0.001',20,{color:'#111'});
  T(911,153,'Survival probability',16.5,{rot:Math.PI/2});
  T(1187.6,321,'Time(years)',17);
  T(1325.5,47.5,'Cluster',12);
  L(1309,69.5,1325,69.5,BLUE,2.4); L(1317,65,1317,74,BLUE,1);
  L(1309,90.5,1325,90.5,ORANGE,2.4); L(1317,86,1317,95,ORANGE,1);
  T(1338,70,'A',12); T(1338,91,'B',12);
  // risk table
  const r=panel(959.2,370,1419,399.7,
    {min:-.987,max:21.16,ticks:yearTicks,fs:14.2,margin:6,color:'#222',tl:4},
    {min:-.556,max:1.68,ticks:[0,1],tl:4,label:{show:false}});
  const lbl=(arr,y)=>dots(r,arr.map((n,i)=>[i,y,n]),'#000',0,{label:{show:true,position:'inside',formatter:p=>p.data[2],fontSize:10.5,color:'#333',fontFamily:FONT}});
  lbl(riskA,1); lbl(riskB,0);
  T(947.5,378.5,'A',16,{color:BLUE}); T(947.5,392.5,'B',16,{color:ORANGE});
  T(1023,353,'Number at risk',19.5);
  T(911,383,'Cluster',17,{rot:Math.PI/2});
  T(1187.6,431,'Time(years)',17);
}
// ---------- D ----------
{
  const g=panel(0,430,420,760,{show:false,min:0,max:420},{show:false,min:430,max:760,inverse:true});
  const links=[], bow=.17, cx=133, cy=610;
  const mk=(e,color)=>{
    let a=e[0],b=e[1];
    const P=netPos[a],Q=netPos[b];
    const ox=(Q[1]-P[1]),oy=(P[0]-Q[0]);
    if(ox*(cx-(P[0]+Q[0])/2)+oy*(cy-(P[1]+Q[1])/2)<0){const t=a;a=b;b=t;}
    links.push({source:a,target:b,lineStyle:{width:e[2],color,curveness:bow,opacity:1}});
  };
  negEdges.forEach(e=>mk(e,'#C4DBEF'));
  posEdges.forEach(e=>mk(e,'#F5A3A8'));
  series.push({type:'graph',coordinateSystem:'cartesian2d',xAxisIndex:g,yAxisIndex:g,layout:'none',silent:true,animation:false,z:2,symbolSize:0,label:{show:false},
    data:netPos.map((p,i)=>({name:netNames[i],value:p})),links,edgeSymbol:['none','none'],lineStyle:{curveness:bow}});
  series.push({type:'custom',xAxisIndex:g,yAxisIndex:g,data:netPos.map((p,i)=>[p[0],p[1],netRadius[i],netClusterB[i]]),silent:true,animation:false,z:3,encode:{x:0,y:1},
    renderItem(p,api){
      const c=api.coord([api.value(0),api.value(1)]),r=api.value(2),isB=api.value(3);
      const sec=(s,e,fill)=>({type:'sector',shape:{cx:c[0],cy:c[1],r,r0:0,startAngle:s,endAngle:e,clockwise:true},style:{fill}});
      const Lc=isB?ORANGE:BLUE, Rc=isB?'#5A4DA3':'#58B84A';
      return {type:'group',children:[sec(Math.PI/2,Math.PI*1.5,Lc),sec(-Math.PI/2,Math.PI/2,Rc)]};
    }});
  series.push({type:'scatter',xAxisIndex:g,yAxisIndex:g,symbolSize:0,silent:true,animation:false,z:4,
    data:netLabelPos.map((p,i)=>({value:p,name:netNames[i],label:{color:netClusterB[i]?'#F7A02B':'#3A67B0'}})),
    label:{show:true,position:'inside',formatter:p=>p.name,fontFamily:'"Liberation Serif"',fontWeight:'bold',fontSize:9.3}});
  C(308,508,3,BLUE); T(318.5,508.5,'Cluster A',12,{align:'left'});
  C(308,523,3,ORANGE); T(318.5,523.5,'Cluster B',12,{align:'left'});
  C(300,618,3,'#5A4DA3'); T(311,618.5,'Risk factors',12,{align:'left'});
  C(300,633,3,'#58B84A'); T(311,633.5,'Favorable factors',12,{align:'left'});
  L(199,698,222,698,'#F5A3A8',2.2); T(233,698.5,'Postive correlation with P<0.001',12,{align:'left'});
  L(199,713,222,713,'#BFD8EE',2.2); T(233,713.5,'Negative correlation with P<0.001',12,{align:'left'});
  T(139.5,728,'Cox test, pvalue',12);
  coxX.forEach((x,i)=>{C(x,746,coxSizes[i],'#000');T(x+12,746.5,coxLabels[i],12,{align:'left'});});
}
// ---------- E ----------
{
  const idx=hallmarkNames.map((_,i)=>i+1);
  const g=panel(453.3,486,809,655,
    {min:.4,max:12.6,ticks:idx,fmt:v=>hallmarkNames[v-1],fs:7.6,rotate:50,color:'#444',margin:3,label:{verticalAlign:'top'}},
    {min:-1.3,max:1.12,ticks:[-1,-.5,0,.5,1],fmt:v=>minus(v.toFixed(1)),fs:7.2,color:'#444',margin:2});
  const d=.195,hw=.19;
  boxes(g,hallmarkA.map((r,i)=>[i+1-d,...r]),'#6F8FC8',hw,1);
  boxes(g,hallmarkB.map((r,i)=>[i+1+d,...r]),'#F9B25C',hw,1);
  dots(g,hallmarkStars.map((s,i)=>[i+1,1.03,s]),'#000',0,{label:{show:true,position:'inside',formatter:p=>p.data[2],fontSize:7,color:'#222',fontFamily:FONT}});
  T(428,570,'Scale of value',7,{rot:Math.PI/2});
  T(608,469,'Cluster',7.2);
  R(625,465.5,9,7,'#fff','#6F8FC8',.9); L(625,469,634,469,'#6F8FC8',.9); T(641,469,'A',6.5);
  R(648,465.5,9,7,'#fff','#F9B25C',.9); L(648,469,657,469,'#F9B25C',.9); T(664,469,'B',6.5);
}
// ---------- F ----------
function violinPanel(l,r,ymin,ymax,ticks,fmt,vA,vB,nt,ptsA,ptsB,br,title,titleX,pX,wX,lgX){
  const g=panel(l,488,r,725,
    {min:.4,max:2.6,ticks:[1,2],fmt:v=>['A','B'][v-1],fs:8,rotate:45,color:'#555',line:'#555',lw:1.2,margin:8,label:{align:'center',verticalAlign:'middle'}},
    {min:ymin,max:ymax,ticks,fmt,fs:7,color:'#555',line:'#555',lw:1.2,margin:2});
  violin(g,1,vA,'#A6C3E8'); violin(g,2,vB,'#FBD596');
  notch(g,[nt[0]],'#3F6FB8',.377); notch(g,[nt[1]],'#FBA72E',.377);
  dots(g,ptsA,'#3F6FB8',4.8,{z:5,itemStyle:{color:'#3F6FB8',borderColor:'#1E2F50',borderWidth:.7,opacity:1}});
  dots(g,ptsB,'#F8971D',4.8,{z:5,itemStyle:{color:'#F8971D',borderColor:'#5A3A08',borderWidth:.7,opacity:1}});
  lineS(g,[[1,br[0]],[1,br[1]],[2,br[1]],[2,br[0]]],'#666',1.1,{z:6});
  T(pX,493,'p < 2.22e−16',7.4,{color:'#333'});
  T(wX,712,'Wilcoxon, p < 2.2e−16',7.6,{color:'#333'});
  T(titleX,606,title,10.3,{rot:Math.PI/2});
  T(lgX+12,473,'Cluster',7.5,{color:'#333'});
  const key=(x,c)=>{R(x,466.5,11,9.5,c,'#222',.9);L(x,471,x+11,471,'#222',.9);C(x+5.5,471,1.6,c=='#3F6FB8'?'#2E9BD6':'#FFD23C');};
  key(lgX+26.5,'#3F6FB8'); T(lgX+43.5,473,'A',5.5,{color:'#333'});
  key(lgX+50.5,'#FBA72E'); T(lgX+67,473,'B',5.5,{color:'#333'});
}
violinPanel(865,1119.8,-1496,4101,[-1000,0,1000,2000,3000,4000],minus,violinImmuneA,violinImmuneB,notchImmune,immuneAPts,immuneBPts,[3740,3858],'ImmuneScore',832.6,991.9,957.5,957.5);
violinPanel(1158.4,1419,.0923,1.043,[.25,.5,.75,1],v=>v.toFixed(2),violinPurityA,violinPurityB,notchPurity,purityAPts,purityBPts,[.98,1],'TumorPurity',1132,1288.7,1252.4,1253.5);
// ---------- G ----------
{
  const g=panel(48.6,784.3,203,1188,
    {min:.4,max:2.6,ticks:[1,2],fmt:v=>metaCats[v-1],fs:11,color:'#4D4D4D',line:'#666',margin:4,tl:3},
    {min:-4.9,max:105,ticks:[0,25,50,75,100],fs:11,color:'#4D4D4D',line:'#666',margin:4,tl:3});
  [12.5,37.5,62.5,87.5].forEach(v=>lineS(g,[[.4,v],[2.6,v]],'#F3F3F3',.8,{z:1}));
  [0,25,50,75,100].forEach(v=>lineS(g,[[.4,v],[2.6,v]],'#EBEBEB',1.2,{z:1}));
  [1,2].forEach(v=>lineS(g,[[v,-4.9],[v,105]],'#EBEBEB',1.2,{z:1}));
  R(48.6,784.3,154.4,403.7,'none','#666',1);
  // bars sit on a category scale whose two bands match the ticks of the visible axis
  const gb=grid.length;
  grid.push({left:55.25,top:784.3,width:141.4,height:403.7});
  xAxis.push({type:'category',gridIndex:gb,data:metaCats,show:false});
  yAxis.push({type:'value',gridIndex:gb,min:-4.9,max:105,show:false,splitLine:{show:false}});
  const lab=(arr)=>({show:true,position:'inside',color:'#222',fontSize:11,fontFamily:FONT,formatter:p=>arr[p.dataIndex]});
  series.push({type:'bar',xAxisIndex:gb,yAxisIndex:gb,stack:'m',barWidth:49.4,data:metaYes,itemStyle:{color:BLUE},label:lab(metaYesLbl),silent:true,animation:false,z:3});
  series.push({type:'bar',xAxisIndex:gb,yAxisIndex:gb,stack:'m',barWidth:49.4,data:metaNo,itemStyle:{color:ORANGE},label:lab(metaNoLbl),silent:true,animation:false,z:3});
  T(12,985.7,'Percent weight',13.5,{rot:Math.PI/2});
  T(127.5,1213,'Cluster',13.5);
  T(210,961,'Metastatic Status',14,{align:'left'});
  R(225,975,20,20,ORANGE); R(225,997,20,20,BLUE);
  T(252.8,985.5,'No',11,{align:'left'}); T(252.8,1007.5,'Yes',11,{align:'left'});
}
// ---------- H ----------
{
  const g=panel(412,839,689.3,1176.3,
    {min:.4,max:2.6,ticks:[1,2],fmt:v=>['A','B'][v-1],fs:16,color:'#222',margin:5,tl:4,lw:1.4,line:'#111'},
    {min:-.051,max:1.103,ticks:[0,.25,.5,.75,1],fmt:v=>v.toFixed(2),fs:16,color:'#222',margin:4,tl:4,lw:1.2,line:'#111'});
  boxes(g,[mrnaBoxes[0]],BLUE,.35,1.3,2);
  boxes(g,[mrnaBoxes[1]],ORANGE,.35,1.3,2);
  dots(g,mrnaA,BLUE,7.4,{z:3}); dots(g,mrnaB,ORANGE,7.4,{z:3});
  lineS(g,[[1,1.019],[1,1.052],[2,1.052],[2,1.019]],'#333',1,{z:4});
  T(550.7,846,'1.4e−10',15);
  T(552.5,1205,'Cluster',16.5);
  T(357.8,1007.7,'mRNAsi',16.5,{rot:Math.PI/2});
  T(500.3,801.7,'Cluster',16.5);
  const key=(x,c)=>{L(x+9.5,791,x+9.5,812,c,1.2);R(x,794,19,15,'#fff',c,1.4);L(x,801.5,x+19,801.5,c,1.2);C(x+9.5,801.5,3,c);};
  key(538,BLUE); T(573,801.7,'A',14);
  key(588.5,ORANGE); T(623,801.7,'B',14);
}
// ---------- I ----------
{
  const idx=m6aGenes.map((_,i)=>i+1);
  const g=panel(746.3,803.3,1417.6,1154.3,
    {min:.4,max:8.6,ticks:idx,fmt:v=>m6aGenes[v-1],fs:12,rotate:55,color:'#222',margin:5,tl:3,line:'#333',lw:1.2,label:{verticalAlign:'top'}},
    {min:-4.81,max:4.728,ticks:[-2.5,0,2.5],fmt:v=>minus(v.toFixed(1)),fs:12,color:'#222',margin:4,tl:3,line:'#333',lw:1.2});
  const d=.2,hw=.176;
  boxes(g,m6aA.map((r,i)=>[i+1-d,...r]),BLUE,hw,1.1);
  boxes(g,m6aB.map((r,i)=>[i+1+d,...r]),ORANGE,hw,1.1);
  dots(g,stackOut(m6aOutA,-d),BLUE,5);
  dots(g,stackOut(m6aOutB,d),ORANGE,5);
  dots(g,idx.map(i=>[i,4.4]),'#000',0,{label:{show:true,position:'inside',formatter:'***',fontSize:10.5,color:'#222',fontFamily:FONT}});
  T(707,979,'Scale of fraction',12,{rot:Math.PI/2});
  T(1045,776.7,'Cluster',12.5);
  const key=(x,c)=>{L(x+7,769,x+7,784,c,1);R(x,771,14,12,'#fff',c,1.2);L(x,777,x+14,777,c,1.2);};
  key(1072.6,BLUE); T(1097,776.7,'A',10.5);
  key(1108.4,ORANGE); T(1133.5,776.7,'B',10.5);
}

const chart=echarts.init(document.getElementById('c'),null,{renderer:'canvas',width:1419,height:1219});
chart.setOption({animation:false,backgroundColor:'#fff',grid,xAxis,yAxis,series,graphic:{elements:gfx},textStyle:{fontFamily:FONT}});
</script></body></html>
